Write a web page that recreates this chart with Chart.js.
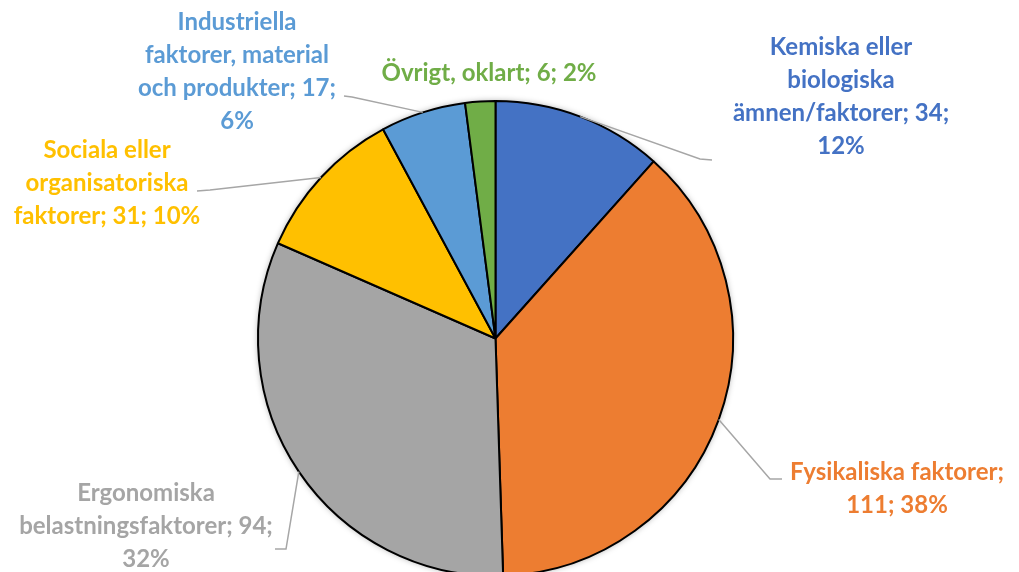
<!DOCTYPE html>
<html><head><meta charset="utf-8">
<script src="https://cdn.jsdelivr.net/npm/chart.js@4"></script>
<style>
html,body{margin:0;padding:0;background:#fff;overflow:hidden;}
#wrap{width:1019px;height:572px;overflow:hidden;position:relative;}
canvas{display:block;}
</style></head>
<body><div id="wrap"><canvas id="c" width="1019" height="680"></canvas></div>
<script>
// ---- data ----
const categories = [
  'Kemiska eller biologiska ämnen/faktorer',
  'Fysikaliska faktorer',
  'Ergonomiska belastningsfaktorer',
  'Sociala eller organisatoriska faktorer',
  'Industriella faktorer, material och produkter',
  'Övrigt, oklart'
];
const values = [34, 111, 94, 31, 17, 6];
const percentLabels = ['12%', '38%', '32%', '10%', '6%', '2%'];
// label text lines as displayed (wrapped)
const labelLines = [
  ['Kemiska eller', 'biologiska', 'ämnen/faktorer; 34;', '12%'],
  ['Fysikaliska faktorer;', '111; 38%'],
  ['Ergonomiska', 'belastningsfaktorer; 94;', '32%'],
  ['Sociala eller', 'organisatoriska', 'faktorer; 31; 10%'],
  ['Industriella', 'faktorer, material', 'och produkter; 17;', '6%'],
  ['Övrigt, oklart; 6; 2%']
];
const colors = ['#4472C4', '#ED7D31', '#A5A5A5', '#FFC000', '#5B9BD5', '#70AD47'];

// ---- label layout (positions only) ----
const labelLayout = [
  {cx: 841, y: 47, elbow: [700, 159], end: [712, 160]},
  {cx: 897, y: 472, elbow: [770, 479], end: [782, 479]},
  {cx: 146, y: 493, elbow: [286, 549], end: [275, 549]},
  {cx: 107, y: 150, elbow: [210, 190], end: [197, 191]},
  {cx: 237, y: 22, elbow: [352, 97], end: [344, 96]},
  {cx: 489, y: 73, elbow: null, end: null}
];
const LINE_H = 33;
const FONT = 'bold 24px Lato, "Open Sans", sans-serif';

const shadowPlugin = {
  id: 'shadow',
  beforeDatasetsDraw(chart) {
    const ctx = chart.ctx;
    const arc = chart.getDatasetMeta(0).data[0];
    if (!arc) return;
    ctx.save();
    ctx.beginPath();
    ctx.arc(arc.x, arc.y, arc.outerRadius, 0, Math.PI * 2);
    ctx.shadowColor = 'rgba(0,0,0,0.35)';
    ctx.shadowBlur = 6;
    ctx.fillStyle = '#fff';
    ctx.fill();
    ctx.restore();
  }
};

const labelPlugin = {
  id: 'labels',
  afterDatasetsDraw(chart) {
    const ctx = chart.ctx;
    const meta = chart.getDatasetMeta(0);
    ctx.save();
    meta.data.forEach((arc, i) => {
      const L = labelLayout[i];
      if (L.elbow) {
        const p = arc.getProps(['x','y','startAngle','endAngle','outerRadius'], true);
        const mid = (p.startAngle + p.endAngle) / 2;
        const sx = p.x + Math.cos(mid) * p.outerRadius;
        const sy = p.y + Math.sin(mid) * p.outerRadius;
        ctx.beginPath();
        ctx.moveTo(sx, sy);
        ctx.lineTo(L.elbow[0], L.elbow[1]);
        ctx.lineTo(L.end[0], L.end[1]);
        ctx.strokeStyle = '#A6A6A6';
        ctx.lineWidth = 1.5;
        ctx.stroke();
      }
    });
    ctx.font = FONT;
    ctx.textAlign = 'center';
    ctx.textBaseline = 'middle';
    labelLines.forEach((lines, i) => {
      ctx.fillStyle = colors[i];
      lines.forEach((t, j) => ctx.fillText(t, labelLayout[i].cx, labelLayout[i].y + j * LINE_H));
    });
    ctx.restore();
  }
};

new Chart(document.getElementById('c'), {
  type: 'pie',
  data: {
    labels: categories,
    datasets: [{
      data: values,
      backgroundColor: colors,
      borderColor: '#000',
      borderWidth: 2
    }]
  },
  options: {
    responsive: false,
    animation: false,
    events: [],
    layout: {padding: {left: 257, right: 285, top: 100, bottom: 103}},
    plugins: {legend: {display: false}, tooltip: {enabled: false}}
  },
  plugins: [shadowPlugin, labelPlugin]
});
</script>
</body></html>
